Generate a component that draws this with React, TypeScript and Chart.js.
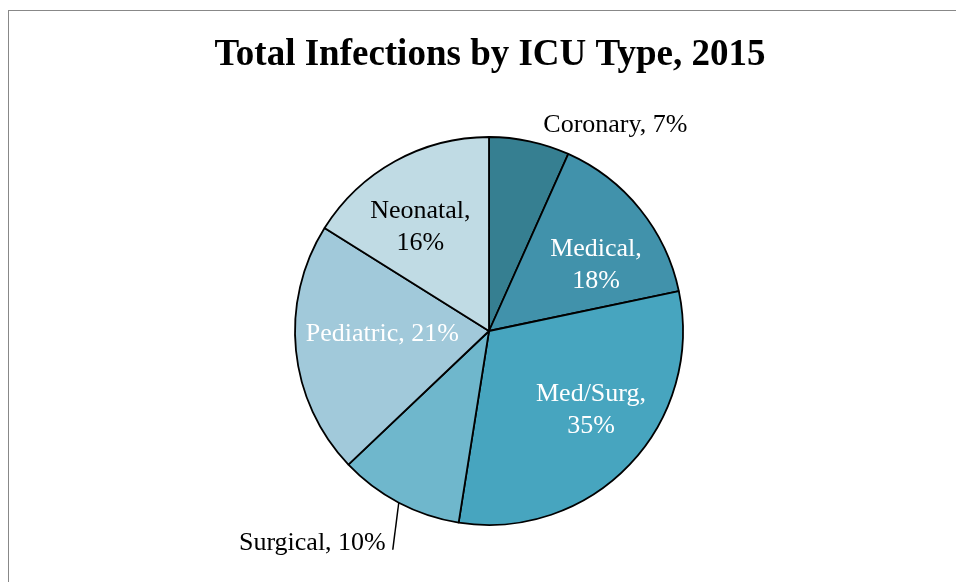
import React, { useEffect, useRef } from "react";
import { Chart, registerables } from "chart.js";

Chart.register(...registerables);

const TITLE = "Total Infections by ICU Type, 2015";
const categories = ["Coronary", "Medical", "Med/Surg", "Surgical", "Pediatric", "Neonatal"];
// slice sizes as drawn in the picture
const sliceValues = [6.7, 15.0, 30.8, 10.4, 21.0, 16.1];
// percentages printed on the labels
const labelPercents = [7, 18, 35, 10, 21, 16];
const colors = ["#367f91", "#4192ab", "#47a5bf", "#6fb7cc", "#a1c9da", "#c0dbe4"];

const labelLayout = [
  { mode: "outside", r: 1.245, dAng: 19.5, lines: (c: string, p: number) => [`${c}, ${p}%`], color: "#000" },
  { mode: "inside", r: 0.648, dAng: 7.2, lines: (c: string, p: number) => [`${c},`, `${p}%`], color: "#fff" },
  { mode: "inside", r: 0.665, dAng: -5.8, lines: (c: string, p: number) => [`${c},`, `${p}%`], color: "#fff" },
  { mode: "leader", r: 1.0, dAng: 0, lines: (c: string, p: number) => [`${c}, ${p}%`], color: "#000" },
  { mode: "inside", r: 0.55, dAng: 4, lines: (c: string, p: number) => [`${c}, ${p}%`], color: "#fff" },
  { mode: "inside", r: 0.64, dAng: -4.6, lines: (c: string, p: number) => [`${c},`, `${p}%`], color: "#000" },
];

const FONT = '"Liberation Serif", "Times New Roman", serif';

const labelPlugin = {
  id: "customLabels",
  afterDatasetsDraw(chart: any) {
    const ctx = chart.ctx;
    const meta = chart.getDatasetMeta(0);
    ctx.save();
    // title
    ctx.fillStyle = "#000";
    ctx.font = `bold 37px ${FONT}`;
    ctx.textAlign = "center";
    ctx.textBaseline = "middle";
    ctx.fillText(TITLE, chart.width / 2, 44);

    ctx.font = `26px ${FONT}`;
    meta.data.forEach((arc: any, i: number) => {
      const L = labelLayout[i];
      const mid = (arc.startAngle + arc.endAngle) / 2;
      const R = arc.outerRadius;
      const lines = L.lines(categories[i], labelPercents[i]);
      ctx.fillStyle = L.color;
      if (L.mode === "leader") {
        const x0 = arc.x + Math.cos(mid) * R;
        const y0 = arc.y + Math.sin(mid) * R;
        const x1 = x0 - 6;
        const y1 = y0 + 47;
        ctx.strokeStyle = "#000";
        ctx.lineWidth = 1.5;
        ctx.beginPath();
        ctx.moveTo(x0, y0);
        ctx.lineTo(x1, y1);
        ctx.stroke();
        ctx.textAlign = "right";
        ctx.textBaseline = "middle";
        ctx.fillText(lines[0], x1 - 7, y1 - 7);
        return;
      }
      const a = mid + (L.dAng * Math.PI) / 180;
      const cx = arc.x + Math.cos(a) * R * L.r;
      const cy = arc.y + Math.sin(a) * R * L.r;
      ctx.textAlign = "center";
      ctx.textBaseline = "middle";
      const lh = 32;
      const y0 = cy - ((lines.length - 1) * lh) / 2;
      lines.forEach((t: string, k: number) => ctx.fillText(t, cx, y0 + k * lh));
    });
    ctx.restore();
  },
};

export default function App() {
  const ref = useRef<HTMLCanvasElement>(null);
  useEffect(() => {
    if (!ref.current) return;
    const chart = new Chart(ref.current, {
      type: "pie",
      data: {
        labels: categories,
        datasets: [
          {
            data: sliceValues,
            backgroundColor: colors,
            borderColor: "#000",
            borderWidth: 1.8,
          },
        ],
      },
      options: {
        responsive: false,
        animation: false,
        radius: 194,
        layout: { padding: { top: 126, bottom: 126, left: 0, right: 2 } },
        plugins: {
          legend: { display: false },
          title: { display: false },
          tooltip: { enabled: false },
        },
      },
      plugins: [labelPlugin],
    });
    return () => chart.destroy();
  }, []);
  return (
    <div
      style={{
        position: "absolute",
        left: 8,
        top: 10,
        width: 962,
        height: 640,
        border: "1px solid #888",
        background: "#fff",
      }}
    >
      <canvas ref={ref} width={962} height={640} style={{ display: "block" }} />
    </div>
  );
}
